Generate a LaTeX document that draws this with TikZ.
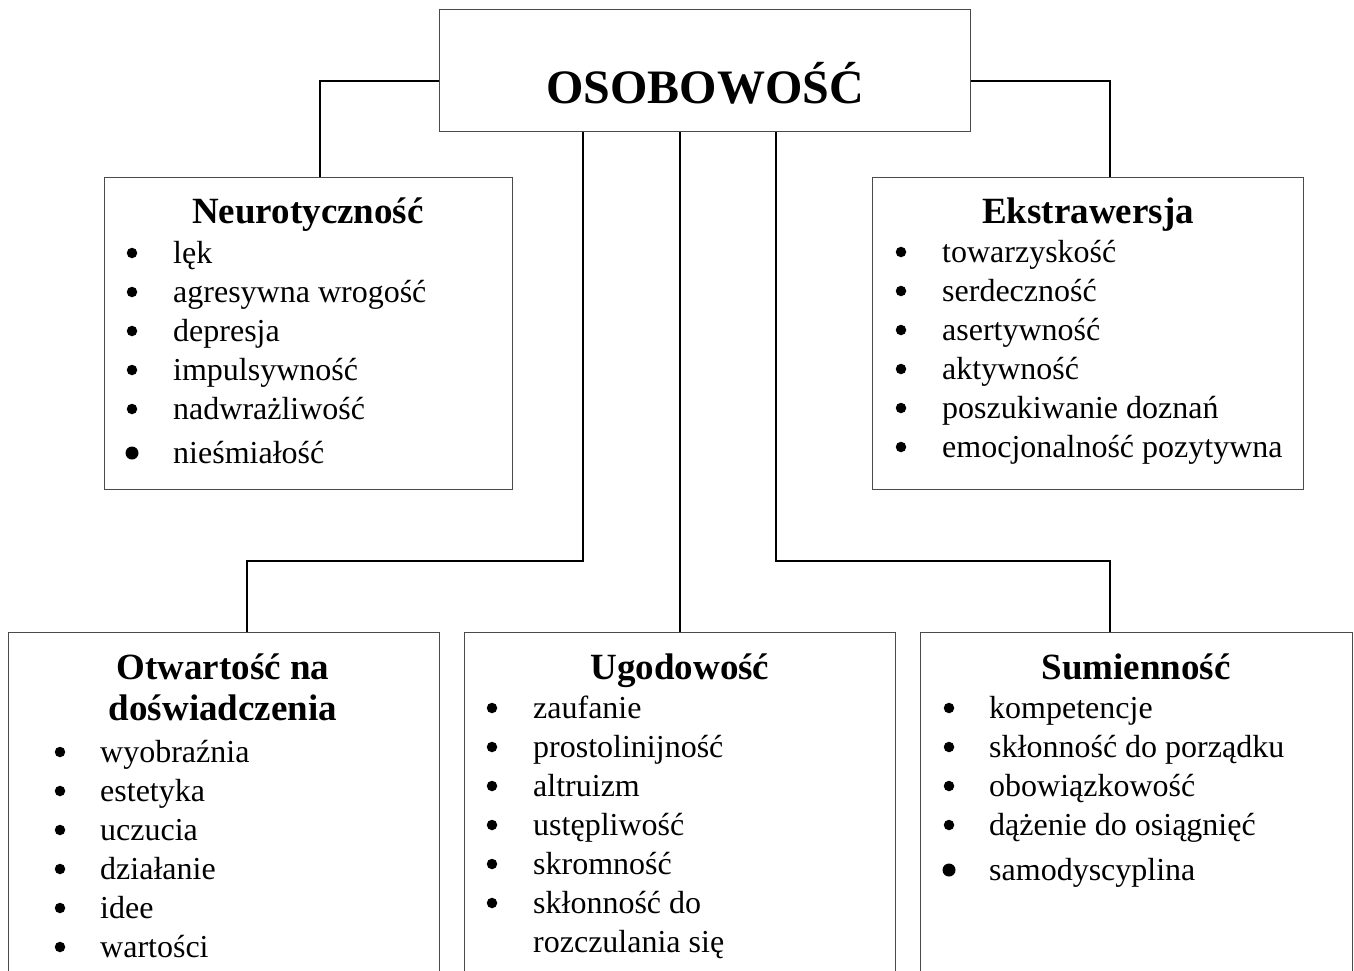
\documentclass[tikz,border=0pt]{standalone}
\usepackage{fontspec}
\setmainfont{Liberation Serif}
\usetikzlibrary{calc}
\definecolor{boxc}{HTML}{4A4A4A}
\tikzset{
  box/.style={draw=boxc, line width=1.4pt, rectangle, inner sep=0pt, anchor=north west},
  conn/.style={draw=black, line width=1.6pt},
  ttl/.style={anchor=base, inner sep=0pt, font=\fontsize{37}{41}\selectfont\bfseries},
  itm/.style={anchor=base west, inner sep=0pt, font=\fontsize{32}{38}\selectfont},
  bul/.style={circle, fill=black, inner sep=0pt, minimum size=10.5pt},
  bigbul/.style={circle, fill=black, inner sep=0pt, minimum size=13pt},
}
\begin{document}
\begin{tikzpicture}[x=1pt,y=-1pt]
\useasboundingbox (0,0) rectangle (1354,970);
\clip (0,0) rectangle (1354,970);
\fill[white] (0,0) rectangle (1354,970);

% boxes
\node[box, minimum width=531, minimum height=122] (root) at (439,9) {};
\node[box, minimum width=408, minimum height=312] (neuro) at (104,177) {};
\node[box, minimum width=431, minimum height=312] (ekstra) at (872,177) {};
\node[box, minimum width=431, minimum height=400] (otw) at (8,632) {};
\node[box, minimum width=431, minimum height=400] (ugo) at (464,632) {};
\node[box, minimum width=432, minimum height=400] (sum) at (920,632) {};

% connectors
\coordinate (jL) at (320,81);
\coordinate (jR) at (1110,81);
\coordinate (b1) at (583,561);
\coordinate (b1e) at (247,561);
\coordinate (b2) at (680,561);
\coordinate (b3) at (776,561);
\coordinate (b3e) at (1110,561);
\draw[conn] (root.west |- jL) -- (jL) -- (jL |- neuro.north);
\draw[conn] (root.east |- jR) -- (jR) -- (jR |- ekstra.north);
\draw[conn] (b1 |- root.south) -- (b1) -- (b1e) -- (b1e |- otw.north);
\draw[conn] (b2 |- root.south) -- (b2 |- ugo.north);
\draw[conn] (b3 |- root.south) -- (b3) -- (b3e) -- (b3e |- sum.north);

% root title
\node[anchor=base, inner sep=0pt, font=\fontsize{48}{52}\selectfont\bfseries] (roottxt) at (705,103) {OSOBOWOŚĆ};

% Neurotyczność
\node[ttl] (neurot) at (308,223) {Neurotyczność};
\foreach \t [count=\i] in {lęk, agresywna wrogość, depresja, impulsywność, nadwrażliwość} {
  \node[bul] (nb\i) at (132,{253+39*(\i-1)}) {};
  \node[itm] (ni\i) at (173,{263+39*(\i-1)}) {\t};
}
\node[bigbul] (nb6) at (132,453) {};
\node[itm] (ni6) at (173,463) {nieśmiałość};

% Ekstrawersja
\node[ttl] (ekstrat) at (1088,223) {Ekstrawersja};
\foreach \t [count=\i] in {towarzyskość, serdeczność, asertywność, aktywność, poszukiwanie doznań, emocjonalność pozytywna} {
  \node[bul] (eb\i) at (901,{252+39*(\i-1)}) {};
  \node[itm] (ei\i) at (942,{262+39*(\i-1)}) {\t};
}

% Otwartość
\node[ttl] (otwt1) at (223,679) {Otwartość na};
\node[ttl] (otwt2) at (223,720) {doświadczenia};
\foreach \t [count=\i] in {wyobraźnia, estetyka, uczucia, działanie, idee, wartości} {
  \node[bul] (ob\i) at (60,{752+39*(\i-1)}) {};
  \node[itm] (oi\i) at (100,{762+39*(\i-1)}) {\t};
}

% Ugodowość
\node[ttl] (ugot) at (680,679) {Ugodowość};
\foreach \t [count=\i] in {zaufanie, prostolinijność, altruizm, ustępliwość, skromność, skłonność do} {
  \node[bul] (ub\i) at (492,{708+39*(\i-1)}) {};
  \node[itm] (ui\i) at (533,{718+39*(\i-1)}) {\t};
}
\node[itm] (ui7) at (533,952) {rozczulania się};

% Sumienność
\node[ttl] (sumt) at (1136,679) {Sumienność};
\foreach \t [count=\i] in {kompetencje, skłonność do porządku, obowiązkowość, dążenie do osiągnięć} {
  \node[bul] (sb\i) at (949,{708+39*(\i-1)}) {};
  \node[itm] (si\i) at (989,{718+39*(\i-1)}) {\t};
}
\node[bigbul] (sb5) at (949,870) {};
\node[itm] (si5) at (989,880) {samodyscyplina};
\end{tikzpicture}
\end{document}
